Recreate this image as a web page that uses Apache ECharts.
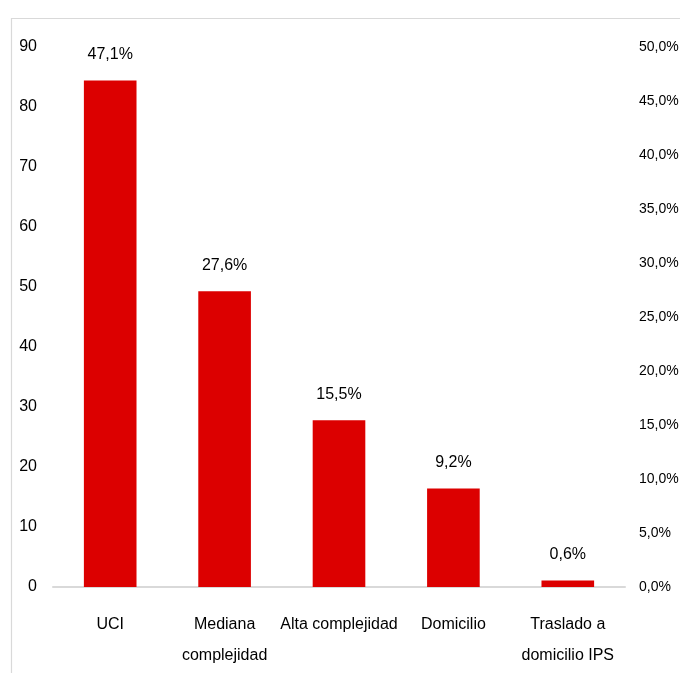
<!DOCTYPE html>
<html>
<head>
<meta charset="utf-8">
<script src="https://cdn.jsdelivr.net/npm/echarts@6/dist/echarts.min.js"></script>
<style>
html,body{margin:0;padding:0;background:#fff;}
#c{width:680px;height:673px;}
</style>
</head>
<body>
<div id="c"></div>
<script>
var categories = ['UCI', 'Mediana\ncomplejidad', 'Alta complejidad', 'Domicilio', 'Traslado a\ndomicilio IPS'];
var values = [84.4, 49.3, 27.8, 16.4, 1.1];
var pctLabels = ['47,1%', '27,6%', '15,5%', '9,2%', '0,6%'];
var leftTicks = {min: 0, max: 90, interval: 10};
var rightTicks = {min: 0, max: 0.5, interval: 0.05};

var FONT = "'Liberation Sans Narrow', 'Arial Narrow', 'Liberation Sans', sans-serif";
var chart = echarts.init(document.getElementById('c'), null, {renderer: 'canvas'});
chart.setOption({
  animation: false,
  backgroundColor: '#fff',
  textStyle: {fontFamily: FONT},
  graphic: [{
    type: 'rect', left: 9, top: 16, silent: true,
    shape: {width: 720, height: 720},
    style: {fill: 'none', stroke: '#d9d9d9', lineWidth: 1.2}
  }],
  grid: {left: 53, right: 55, top: 47, bottom: 86, containLabel: false, outerBoundsMode: 'none'},
  xAxis: {
    type: 'category',
    data: categories,
    axisLine: {show: true, lineStyle: {color: '#d9d9d9', width: 2}},
    axisTick: {show: false},
    axisLabel: {color: '#000', fontSize: 16, fontFamily: FONT, margin: 22, lineHeight: 31, interval: 0}
  },
  yAxis: [{
    type: 'value',
    min: leftTicks.min, max: leftTicks.max, interval: leftTicks.interval,
    axisLine: {show: false}, axisTick: {show: false},
    splitLine: {show: false},
    axisLabel: {color: '#000', fontSize: 16, fontFamily: FONT, margin: 16}
  }, {
    type: 'value',
    min: rightTicks.min, max: rightTicks.max, interval: rightTicks.interval,
    axisLine: {show: false}, axisTick: {show: false},
    splitLine: {show: false},
    axisLabel: {
      color: '#000', fontSize: 14, fontFamily: FONT, margin: 14,
      formatter: function (v) { return (v * 100).toFixed(1).replace('.', ',') + '%'; }
    }
  }],
  series: [{
    type: 'bar',
    data: values,
    yAxisIndex: 0,
    barWidth: '46%',
    itemStyle: {color: '#dc0000'},
    label: {
      show: true, position: 'top', distance: 18,
      color: '#000', fontSize: 16, fontFamily: FONT,
      formatter: function (p) { return pctLabels[p.dataIndex]; }
    }
  }]
});
</script>
</body>
</html>
